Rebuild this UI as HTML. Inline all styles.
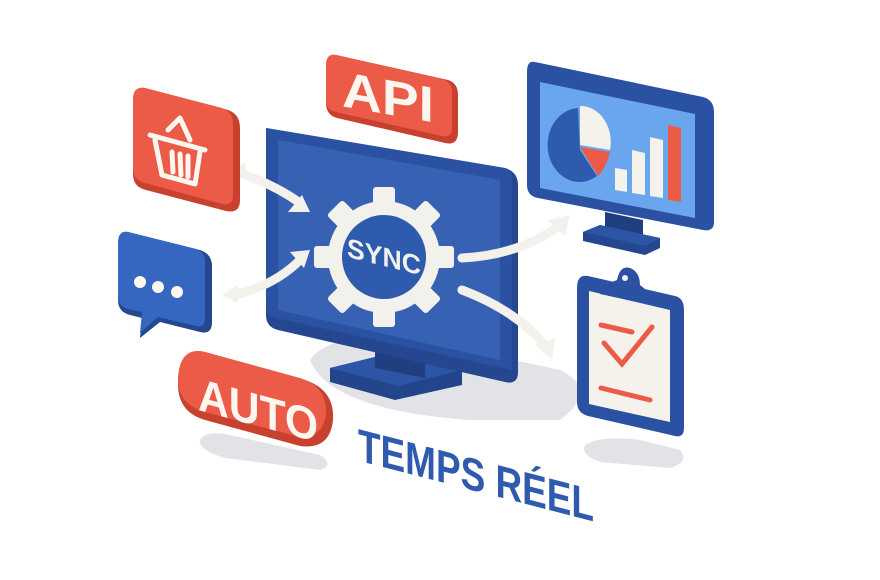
<!DOCTYPE html>
<html><head><meta charset="utf-8"><style>html,body{margin:0;padding:0;background:#fff}svg{display:block}</style></head><body>
<svg width="880" height="580" viewBox="0 0 880 580" xmlns="http://www.w3.org/2000/svg" font-family="Liberation Sans, sans-serif" font-weight="bold">
<!-- shadows -->
<path d="M310 360 Q330 330 420 340 L560 370 Q600 390 560 420 L470 420 Q330 410 310 360Z" fill="#e2e3e6"/>
<path d="M200 440 Q205 430 230 435 L320 455 Q335 465 320 470 L225 458 Q198 450 200 440Z" fill="#e2e3e6"/>
<path d="M585 445 Q600 435 640 440 L680 450 Q690 462 670 468 L600 462 Q580 455 585 445Z" fill="#e2e3e6"/>

<!-- main monitor stand -->
<path d="M330 368 L395 352 L462 370 L462 385 L395 400 L330 382Z" fill="#23458c"/>
<path d="M330 368 L395 352 L462 370 L398 386Z" fill="#2c55a6"/>
<path d="M375 330 L425 340 L425 378 L375 368Z" fill="#1f3f80"/>
<!-- main monitor -->
<path d="M266 128 L505 168 Q518 172 518 185 L518 372 Q518 385 505 382 L278 330 Q266 327 266 315 Z" fill="#24478f"/>
<path d="M266 128 L505 168 Q512 170 512 178 L512 370 L276 318 Q266 316 266 305Z" fill="#2b52a2"/>
<path d="M278 140 L500 180 L500 360 L278 310Z" fill="#3762b3"/>
<!-- gear -->
<g transform="translate(384,257)">
<g fill="#f3f1ec">
<circle r="56"/>
<g id="t"><rect x="-11" y="-70" width="22" height="22" rx="3"/></g>
<use href="#t" transform="rotate(45)"/><use href="#t" transform="rotate(90)"/><use href="#t" transform="rotate(135)"/><use href="#t" transform="rotate(180)"/><use href="#t" transform="rotate(225)"/><use href="#t" transform="rotate(270)"/><use href="#t" transform="rotate(315)"/>
</g>
<circle r="42" fill="#2f5bae"/>
<text x="0" y="0" font-size="27" fill="#f3f1ec" text-anchor="middle" transform="skewY(14) translate(0,9)" textLength="74" lengthAdjust="spacingAndGlyphs">SYNC</text>
</g>
<!-- arrows -->
<g fill="none" stroke="#f3f1ec" stroke-width="9" stroke-linecap="round">
<path d="M240 173 Q275 185 300 203"/>
<path d="M235 295 Q275 285 300 260"/>
<path d="M462 258 Q520 255 560 225"/>
<path d="M462 290 Q515 310 545 345"/>
</g>
<g fill="#f3f1ec">
<path d="M310 212 L288 212 L302 195Z"/>
<path d="M230 170 L246 162 L244 180Z"/>
<path d="M310 250 L290 252 L304 268Z"/>
<path d="M222 295 L238 285 L238 303Z"/>
<path d="M570 215 L548 220 L565 236Z"/>
<path d="M552 360 L535 345 L555 338Z"/>
</g>

<!-- API -->
<path d="M336 55 L448 80 Q458 83 458 95 L458 132 Q458 146 445 143 L337 118 Q326 115 326 103 L326 66 Q326 53 336 55Z" fill="#c8412f"/>
<path d="M336 55 L442 79 Q452 82 452 92 L452 128 Q452 138 442 136 L336 112 Q326 110 326 100 L326 66 Q326 53 336 55Z" fill="#ec5b47"/>
<text x="342" y="106" font-size="50" fill="#fbf7f0" transform="skewY(10) translate(0,-60)" textLength="92" lengthAdjust="spacingAndGlyphs">API</text>

<!-- basket tile -->
<path d="M145 88 L228 110 Q240 114 240 128 L240 200 Q240 214 226 211 L146 190 Q133 187 133 174 L133 100 Q133 86 145 88Z" fill="#c8412f"/>
<path d="M145 88 L222 108 Q233 112 233 124 L233 196 Q233 206 222 204 L145 183 Q133 180 133 168 L133 100 Q133 86 145 88Z" fill="#ec5b47"/>
<g fill="none" stroke="#fbf7f0" stroke-width="5" stroke-linejoin="round" stroke-linecap="round">
<path d="M150 135 L205 150"/>
<path d="M155 140 L162 175 L195 184 L200 152"/>
<path d="M168 130 L180 118 L190 140"/>
<path d="M172 152 L173 172 M180 154 L181 175 M188 156 L188 177"/>
</g>

<!-- chat tile -->
<path d="M128 232 L200 250 Q212 254 212 266 L212 322 Q212 335 200 332 L160 322 L140 338 L142 318 L130 315 Q118 312 118 300 L118 244 Q118 230 128 232Z" fill="#24478f"/>
<path d="M128 232 L196 249 Q205 252 205 262 L205 318 Q205 328 196 326 L158 317 L140 333 L142 312 L128 309 Q118 306 118 296 L118 244 Q118 230 128 232Z" fill="#3566c0"/>
<circle cx="140" cy="282" r="6" fill="#fbf7f0"/><circle cx="158" cy="287" r="6" fill="#fbf7f0"/><circle cx="177" cy="292" r="6" fill="#fbf7f0"/>

<!-- AUTO -->
<path d="M205 352 L305 380 Q335 390 333 420 Q330 450 300 446 L205 420 Q177 412 178 382 Q180 346 205 352Z" fill="#c8412f"/>
<path d="M205 352 L300 378 Q328 387 326 415 Q322 440 296 436 L205 412 Q177 404 178 378 Q180 346 205 352Z" fill="#ec5b47"/>
<text x="198" y="412" font-size="46" fill="#fbf7f0" transform="skewY(15) translate(0,-55)" textLength="120" lengthAdjust="spacingAndGlyphs">AUTO</text>

<!-- right monitor -->
<path d="M605 212 L643 220 L643 240 L605 232Z" fill="#1f3f80"/>
<path d="M583 232 L600 225 L660 238 L660 248 L645 255 L583 241Z" fill="#24478f"/>
<path d="M583 232 L600 225 L660 238 L645 246Z" fill="#2c55a6"/>
<path d="M535 62 L703 97 Q714 100 714 112 L714 222 Q714 232 703 230 L538 198 Q527 196 527 185 L527 72 Q527 60 535 62Z" fill="#2b52a2"/>
<path d="M540 82 L695 114 L695 218 L540 188Z" fill="#6aa6ee"/>
<path d="M578 108 A32 37 0 1 0 597 176 L580 150Z" fill="#2f5bae"/>
<path d="M580 106 A30 36 0 0 1 610 150 L580 145Z" fill="#f5f2ec"/>
<path d="M580 147 L610 152 Q606 168 598 176Z" fill="#ec5b47"/>
<path d="M615 168 L627 170 L627 192 L615 190Z" fill="#f5f2ec"/>
<path d="M632 150 L645 153 L645 195 L632 193Z" fill="#f5f2ec"/>
<path d="M650 137 L663 140 L663 198 L650 196Z" fill="#f5f2ec"/>
<path d="M668 125 L681 128 L681 202 L668 200Z" fill="#ec5b47"/>

<!-- clipboard -->
<path d="M588 276 L675 296 Q684 298 684 310 L684 428 Q684 438 675 436 L588 416 Q577 413 577 402 L577 288 Q577 274 588 276Z" fill="#2b52a2"/>
<path d="M589 291 L670 310 L670 422 L589 404Z" fill="#f5f2ec"/>
<path d="M600 287 L617 280 Q620 265 630 268 Q640 272 640 285 L656 298 L656 306 L600 294Z" fill="#2b52a2"/>
<circle cx="625" cy="278" r="3" fill="#f5f2ec"/>
<g stroke="#ec5b47" stroke-width="5" stroke-linecap="round" fill="none">
<path d="M601 325 L632 332"/>
<path d="M604 343 L622 364 L652 327"/>
<path d="M601 388 L650 400"/>
</g>

<!-- TEMPS RÉEL -->
<text x="358" y="462" font-size="46" fill="#2f5bae" transform="skewY(14.5)" textLength="236" lengthAdjust="spacingAndGlyphs" dy="-94">TEMPS RÉEL</text>
</svg>
</body></html>
